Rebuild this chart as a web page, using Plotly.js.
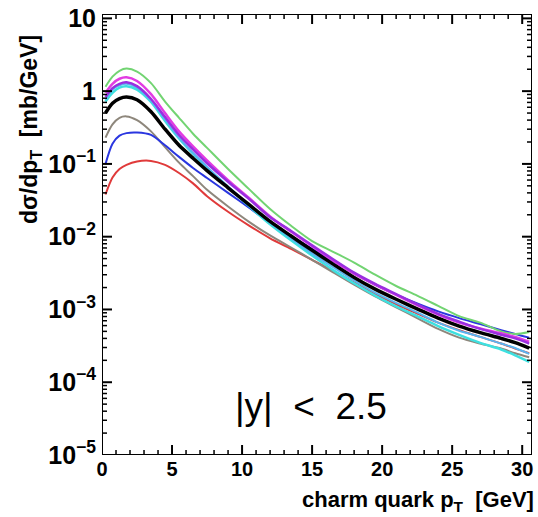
<!DOCTYPE html>
<html><head><meta charset="utf-8">
<script src="https://cdn.plot.ly/plotly-3.0.1.min.js"></script>
<style>html,body{margin:0;padding:0;background:#fff}</style>
</head><body>
<div id="chart" style="width:538px;height:517px"></div>
<script>
const pt = [0.25,0.75,1.25,1.75,2.5,3.5,4.5,5.5,6.5,7.5,9,10.5,12,13.5,15,16.5,18,19.5,21,22.5,24,25.5,27,28.5,29.5,30.5];

const green   = [1.15,1.58,1.9,2.04,1.86,1.29,0.72,0.43,0.26,0.166,0.085,0.045,0.024,0.0141,0.0087,0.0062,0.0044,0.0030,0.0021,0.00155,0.00112,0.00081,0.00066,0.0005,0.00046,0.00049];
const magenta = [0.95,1.26,1.48,1.55,1.38,0.91,0.50,0.28,0.174,0.112,0.060,0.034,0.019,0.0117,0.0074,0.0047,0.0031,0.00219,0.00158,0.00115,0.00085,0.00066,0.00055,0.00047,0.00042,0.00036];
const purple  = [0.83,1.10,1.26,1.32,1.17,0.78,0.44,0.25,0.158,0.102,0.057,0.033,0.0185,0.012,0.0076,0.0049,0.0032,0.00224,0.00162,0.00117,0.00087,0.00068,0.00054,0.00045,0.0004,0.00034];
const skyblue = [0.76,1.05,1.2,1.26,1.12,0.74,0.41,0.23,0.141,0.091,0.049,0.0275,0.0155,0.0095,0.0059,0.0038,0.0025,0.0017,0.00123,0.00091,0.00066,0.00051,0.00042,0.00034,0.000295,0.000245];
const cyan    = [0.72,0.95,1.12,1.17,1.05,0.71,0.39,0.224,0.138,0.089,0.048,0.0263,0.0148,0.0089,0.0055,0.00347,0.00229,0.00155,0.0011,0.00081,0.00059,0.000447,0.000347,0.000282,0.000234,0.00019];
const black   = [0.50,0.68,0.79,0.83,0.76,0.52,0.30,0.18,0.12,0.081,0.047,0.0275,0.0162,0.0102,0.0065,0.0042,0.00275,0.0019,0.00138,0.00102,0.00076,0.00059,0.00048,0.00040,0.00035,0.000295];
const gray    = [0.23,0.35,0.43,0.45,0.40,0.28,0.17,0.104,0.068,0.044,0.026,0.016,0.0104,0.0071,0.0048,0.00324,0.00219,0.00151,0.00107,0.00076,0.00054,0.00041,0.00034,0.00029,0.00025,0.00022];
const blue    = [0.10,0.19,0.245,0.265,0.27,0.25,0.18,0.125,0.088,0.064,0.040,0.025,0.0155,0.0103,0.0068,0.0046,0.0031,0.00218,0.0016,0.00121,0.00094,0.00076,0.00063,0.00052,0.00046,0.00041];
const red     = [0.038,0.065,0.085,0.097,0.108,0.11,0.097,0.075,0.054,0.036,0.022,0.0142,0.0095,0.0068,0.0048,0.0034,0.00235,0.00162,0.00118,0.00088,0.00066,0.00052,0.00042,0.00034,0.00029,0.00025];

const series = [
  {y: red, color: '#e03a3a', w: 2},
  {y: gray, color: '#8e877c', w: 2},
  {y: blue, color: '#2a36e0', w: 2},
  {y: cyan, color: '#3ee0e0', w: 2.5},
  {y: skyblue, color: '#5ab4f0', w: 2},
  {y: green, color: '#72d472', w: 2},
  {y: black, color: '#000000', w: 3.5},
  {y: magenta, color: '#e23ce2', w: 2.5},
  {y: purple, color: '#9a2ee0', w: 2.5}
];

const traces = series.map(s => ({
  x: pt, y: s.y, type: 'scatter', mode: 'lines',
  line: {color: s.color, width: s.w, shape: 'spline', smoothing: 0.8},
  hoverinfo: 'skip', showlegend: false
}));

const tickFont = {family: 'Liberation Sans, Arial, sans-serif', size: 20, color: '#000', weight: 'bold'};
const xRange = [0, 30.7];
const yRange = [-5, 1.06];

// ---- frame and inside tick marks (decoration), derived from the axis ranges ----
const plotW = 538 - 102 - 6, plotH = 517 - 14 - 62;
const pxPerX = plotW / (xRange[1] - xRange[0]);
const pxPerDec = plotH / (yRange[1] - yRange[0]);
const yBot = Math.pow(10, yRange[0]), yTop = Math.pow(10, yRange[1]);
function tickSegs(major) {
  const xs = [], ys = [];
  const len = major ? 10 : 5;
  for (let x = 0; x <= 30; x++) {
    if ((x % 5 === 0) !== major) continue;
    xs.push(x, x, null, x, x, null);
    ys.push(yBot, Math.pow(10, yRange[0] + len / pxPerDec), null,
            yTop, Math.pow(10, yRange[1] - len / pxPerDec), null);
  }
  for (let d = yRange[0]; d <= 1; d++) {
    for (let k = 1; k <= 9; k++) {
      if ((k === 1) !== major) continue;
      const v = k * Math.pow(10, d);
      if (v > yTop) continue;
      xs.push(xRange[0], xRange[0] + len / pxPerX, null, xRange[1], xRange[1] - len / pxPerX, null);
      ys.push(v, v, null, v, v, null);
    }
  }
  return {xs, ys};
}
const maj = tickSegs(true), mnr = tickSegs(false);
traces.push({x: mnr.xs, y: mnr.ys, type: 'scatter', mode: 'lines', connectgaps: false, cliponaxis: false,
             line: {color: '#000', width: 1.5}, hoverinfo: 'skip', showlegend: false});
traces.push({x: maj.xs, y: maj.ys, type: 'scatter', mode: 'lines', connectgaps: false, cliponaxis: false,
             line: {color: '#000', width: 2}, hoverinfo: 'skip', showlegend: false});
traces.push({x: [xRange[0], xRange[1], xRange[1], xRange[0], xRange[0]], y: [yBot, yBot, yTop, yTop, yBot],
             type: 'scatter', mode: 'lines', cliponaxis: false,
             line: {color: '#000', width: 2}, hoverinfo: 'skip', showlegend: false});

const layout = {
  width: 538, height: 517,
  margin: {l: 102, r: 6, t: 14, b: 62},
  paper_bgcolor: '#fff', plot_bgcolor: '#fff',
  showlegend: false,
  xaxis: {
    range: xRange, tickmode: 'linear', tick0: 0, dtick: 5,
    ticks: '', showline: false, showgrid: false, zeroline: false, tickfont: tickFont
  },
  yaxis: {
    type: 'log', range: yRange, tickmode: 'linear', tick0: 0, dtick: 1, exponentformat: 'power',
    ticks: '', showline: false, showgrid: false, zeroline: false, tickfont: tickFont, ticklabelstandoff: 5
  },
  annotations: [
    {text: 'charm quark p<sub>T</sub>  [GeV]', xref: 'paper', yref: 'paper', x: 1.01, y: -0.105,
     xanchor: 'right', yanchor: 'middle', showarrow: false,
     font: {family: 'Liberation Sans, Arial, sans-serif', size: 22, color: '#000', weight: 'bold'}},
    {text: 'dσ/dp<sub>T</sub>  [mb/GeV]', xref: 'paper', yref: 'paper', x: -0.165, y: 0.737,
     xanchor: 'center', yanchor: 'middle', textangle: -90, showarrow: false,
     font: {family: 'Liberation Sans, Arial, sans-serif', size: 23, color: '#000', weight: 'bold'}},
    {text: '|y|  <  2.5', xref: 'x', yref: 'y', x: 14.9, y: -4.34,
     xanchor: 'center', yanchor: 'middle', showarrow: false,
     font: {family: 'Liberation Sans, Arial, sans-serif', size: 37, color: '#000'}}
  ]
};

Plotly.newPlot('chart', traces, layout, {staticPlot: true, displayModeBar: false});
</script>
</body></html>
